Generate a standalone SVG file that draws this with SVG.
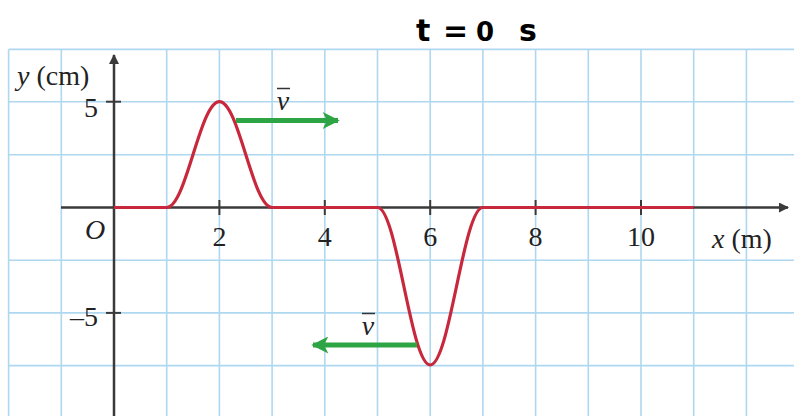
<svg xmlns="http://www.w3.org/2000/svg" width="794" height="416" viewBox="0 0 794 416">
<defs>
<style>
.grid line{stroke:#aed8ef;stroke-width:1.6}
.axis{stroke:#3a3a3a;stroke-width:2.5;fill:none}
.tick{stroke:#3a3a3a;stroke-width:2}
.wave{stroke:#c8283c;stroke-width:3.2;fill:none;stroke-linejoin:round}
.vel{stroke:#2ea544;stroke-width:5;fill:none}
.lbl{font-family:"Liberation Serif",serif;font-size:28px;fill:#222}
.it{font-style:italic}
.title{font-family:"DejaVu Sans",sans-serif;font-weight:bold;font-size:30px;fill:#000}
</style>
<marker id="axhead" viewBox="0 0 10 10" refX="9" refY="5" markerWidth="12" markerHeight="10" markerUnits="userSpaceOnUse" orient="auto"><path d="M0,0 L10,5 L0,10 Z" fill="#3a3a3a"/></marker>
<marker id="vhead" viewBox="0 0 10 10" refX="9" refY="5" markerWidth="18" markerHeight="17" markerUnits="userSpaceOnUse" orient="auto"><path d="M0,0 L10,5 L0,10 L2.5,5 Z" fill="#2ea544"/></marker>
</defs>
<rect width="794" height="416" fill="#ffffff"/>
<g id="grid" class="grid">
<line x1="8.6" y1="49.4" x2="8.6" y2="416"/>
<line x1="61.3" y1="49.4" x2="61.3" y2="416"/>
<line x1="166.7" y1="49.4" x2="166.7" y2="416"/>
<line x1="219.4" y1="49.4" x2="219.4" y2="416"/>
<line x1="272.1" y1="49.4" x2="272.1" y2="416"/>
<line x1="324.8" y1="49.4" x2="324.8" y2="416"/>
<line x1="377.5" y1="49.4" x2="377.5" y2="416"/>
<line x1="430.2" y1="49.4" x2="430.2" y2="416"/>
<line x1="482.9" y1="49.4" x2="482.9" y2="416"/>
<line x1="535.6" y1="49.4" x2="535.6" y2="416"/>
<line x1="588.3" y1="49.4" x2="588.3" y2="416"/>
<line x1="641" y1="49.4" x2="641" y2="416"/>
<line x1="693.7" y1="49.4" x2="693.7" y2="416"/>
<line x1="746.4" y1="49.4" x2="746.4" y2="416"/>
<line x1="8.6" y1="49.4" x2="794" y2="49.4"/>
<line x1="8.6" y1="101.7" x2="794" y2="101.7"/>
<line x1="8.6" y1="154.8" x2="794" y2="154.8"/>
<line x1="8.6" y1="260.2" x2="794" y2="260.2"/>
<line x1="8.6" y1="312.9" x2="794" y2="312.9"/>
<line x1="8.6" y1="365.6" x2="794" y2="365.6"/>
</g>
<g id="axes">
<line class="axis" x1="61" y1="207.5" x2="788" y2="207.5" marker-end="url(#axhead)"/>
<line class="axis" x1="114" y1="416" x2="114" y2="55" marker-end="url(#axhead)"/>
<line class="tick" x1="219.4" y1="200" x2="219.4" y2="215"/>
<line class="tick" x1="324.8" y1="200" x2="324.8" y2="215"/>
<line class="tick" x1="430.2" y1="200" x2="430.2" y2="215"/>
<line class="tick" x1="535.6" y1="200" x2="535.6" y2="215"/>
<line class="tick" x1="641" y1="200" x2="641" y2="215"/>
<line class="tick" x1="106" y1="101.7" x2="121" y2="101.7"/>
<line class="tick" x1="106" y1="312.9" x2="121" y2="312.9"/>
</g>
<g id="wave">
<path class="wave" d="M114,207.5 L166.7,207.5 C186.2,207.5 199.9,101.7 219.4,101.7 C238.9,101.7 252.6,207.5 272.1,207.5 L377.5,207.5 C397,207.5 410.7,365 430.2,365 C449.7,365 463.4,207.5 482.9,207.5 L693.7,207.5"/>
</g>
<g id="connectors">
<line class="vel" x1="236" y1="120.5" x2="338" y2="120.5" marker-end="url(#vhead)"/>
<line class="vel" x1="417" y1="345" x2="313" y2="345" marker-end="url(#vhead)"/>
</g>
<g id="v-top">
<text class="lbl it" x="283" y="110" text-anchor="middle">v</text>
<line x1="277" y1="88.5" x2="290" y2="88.5" stroke="#333" stroke-width="1.5"/>
</g>
<g id="v-bottom">
<text class="lbl it" x="368" y="335" text-anchor="middle">v</text>
<line x1="362" y1="313.5" x2="375" y2="313.5" stroke="#333" stroke-width="1.5"/>
</g>
<g id="labels">
<text class="lbl" x="17" y="85"><tspan class="it">y</tspan> (cm)</text>
<text class="lbl" x="98" y="116.5" text-anchor="end">5</text>
<text class="lbl" x="98" y="326" text-anchor="end">–5</text>
<text class="lbl it" x="95" y="239" text-anchor="middle">O</text>
<text class="lbl" x="219.4" y="246" text-anchor="middle">2</text>
<text class="lbl" x="324.8" y="246" text-anchor="middle">4</text>
<text class="lbl" x="430.2" y="246" text-anchor="middle">6</text>
<text class="lbl" x="535.6" y="246" text-anchor="middle">8</text>
<text class="lbl" x="641" y="246" text-anchor="middle">10</text>
<text class="lbl" x="712" y="248"><tspan class="it">x</tspan> (m)</text>
</g>
<g id="title">
<text class="title" x="416" y="41">t<tspan x="443">=</tspan><tspan x="476" font-size="26">0</tspan><tspan x="519">s</tspan></text>
</g>
</svg>
